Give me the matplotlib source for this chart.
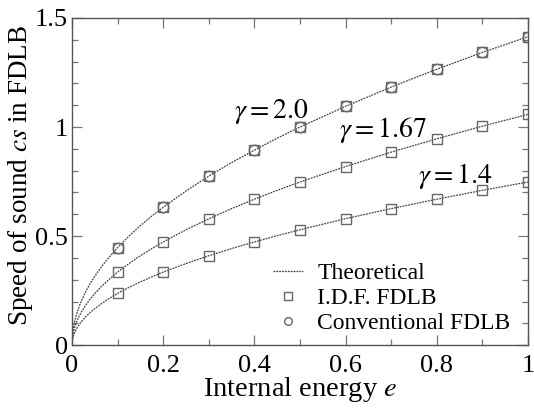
import matplotlib
matplotlib.use("Agg")
import matplotlib.pyplot as plt
from matplotlib.ticker import MultipleLocator

plt.rcParams['font.family'] = ['Liberation Serif', 'DejaVu Serif']
plt.rcParams['mathtext.fontset'] = 'stix'

# simulation points
e_points = [0.1, 0.2, 0.3, 0.4, 0.5, 0.6, 0.7, 0.8, 0.9, 1.0]
cs_g20 = [0.447, 0.632, 0.775, 0.894, 1.000, 1.095, 1.183, 1.265, 1.342, 1.414]
cs_g167 = [0.334, 0.473, 0.579, 0.669, 0.748, 0.819, 0.885, 0.946, 1.003, 1.058]
cs_g14 = [0.237, 0.335, 0.410, 0.473, 0.529, 0.580, 0.626, 0.669, 0.710, 0.748]

# theoretical curves (dense near e=0)
e_theory = [0, 0.001, 0.003, 0.006, 0.01, 0.015, 0.02, 0.03, 0.04, 0.05, 0.065,
            0.08, 0.1, 0.125, 0.15, 0.175, 0.2, 0.25, 0.3, 0.35, 0.4, 0.45,
            0.5, 0.6, 0.7, 0.8, 0.9, 1.0]
th_g20 = [0, 0.045, 0.077, 0.110, 0.141, 0.173, 0.200, 0.245, 0.283, 0.316, 0.361,
          0.400, 0.447, 0.500, 0.548, 0.592, 0.632, 0.707, 0.775, 0.837, 0.894, 0.949,
          1.000, 1.095, 1.183, 1.265, 1.342, 1.414]
th_g167 = [0, 0.033, 0.058, 0.082, 0.106, 0.130, 0.150, 0.183, 0.212, 0.237, 0.270,
           0.299, 0.335, 0.374, 0.410, 0.443, 0.473, 0.529, 0.579, 0.626, 0.669, 0.710,
           0.748, 0.819, 0.885, 0.946, 1.004, 1.058]
th_g14 = [0, 0.024, 0.041, 0.058, 0.075, 0.092, 0.106, 0.130, 0.150, 0.167, 0.191,
          0.212, 0.237, 0.265, 0.290, 0.313, 0.335, 0.374, 0.410, 0.443, 0.473, 0.502,
          0.529, 0.580, 0.626, 0.669, 0.710, 0.748]

gamma_labels = [r'$\gamma = 2.0$', r'$\gamma = 1.67$', r'$\gamma = 1.4$']

line_col = '#444444'
mark_col = '#666666'
dash = (0, (1.5, 0.8))

fig = plt.figure(figsize=(5.34, 4.08), dpi=100)
ax = fig.add_axes([0.1348, 0.154, 0.854, 0.802])

for th in [th_g20, th_g167, th_g14]:
    ax.plot(e_theory, th, color=line_col, lw=0.9, ls=dash)

for cs in [cs_g20, cs_g167, cs_g14]:
    ax.plot(e_points, cs, ls='none', marker='s', ms=7.5, mfc='none',
            mec=mark_col, mew=1.0)
ax.plot(e_points, cs_g20, ls='none', marker='o', ms=7.5, mfc='none',
        mec=mark_col, mew=1.0)

# legend handles
h_th, = ax.plot([], [], color=line_col, lw=0.9, ls=dash, label='Theoretical')
h_sq, = ax.plot([], [], ls='none', marker='s', ms=5.5, mfc='none', mec=mark_col,
                mew=1.0, label='I.D.F. FDLB')
h_ci, = ax.plot([], [], ls='none', marker='o', ms=5.5, mfc='none', mec=mark_col,
                mew=1.0, label='Conventional FDLB')
ax.legend(handles=[h_th, h_sq, h_ci], loc='lower left',
          bbox_to_anchor=(0.414, -0.003), frameon=False, fontsize=17,
          handlelength=1.3, handletextpad=0.6, labelspacing=0.15,
          borderpad=0.0)

ax.text(0.436, 1.043, gamma_labels[0], fontsize=20, ha='center', va='baseline')
ax.text(0.682, 0.956, gamma_labels[1], fontsize=20, ha='center', va='baseline')
ax.text(0.840, 0.745, gamma_labels[2], fontsize=20, ha='center', va='baseline')

ax.set_xlim(0, 1)
ax.set_ylim(0, 1.5)
ax.xaxis.set_minor_locator(MultipleLocator(0.1))
ax.yaxis.set_minor_locator(MultipleLocator(0.1))
ax.set_xticks([0, 0.2, 0.4, 0.6, 0.8, 1.0])
ax.set_xticklabels(['0', '0.2', '0.4', '0.6', '0.8', '1'])
ax.set_yticks([0, 0.5, 1.0, 1.5])
ax.set_yticklabels(['0', '0.5', '1', '1.5'])

ax.tick_params(which='both', direction='in', top=True, right=True,
               color='#777777', labelsize=19)
ax.tick_params(which='major', length=7, width=0.9)
ax.tick_params(which='minor', length=4, width=0.9)
ax.tick_params(axis='x', pad=7)
ax.tick_params(axis='y', pad=3)
for sp in ax.spines.values():
    sp.set_color('#555555')
    sp.set_linewidth(1.0)

fig.text(0.562, 0.029, r'Internal energy $e$', fontsize=20.5,
         ha='center', va='baseline')
fig.text(0.038, 0.569, r'Speed of sound $cs$ in FDLB', fontsize=19.5,
         rotation=90, ha='center', va='center')

fig.savefig('out.png', dpi=100)
